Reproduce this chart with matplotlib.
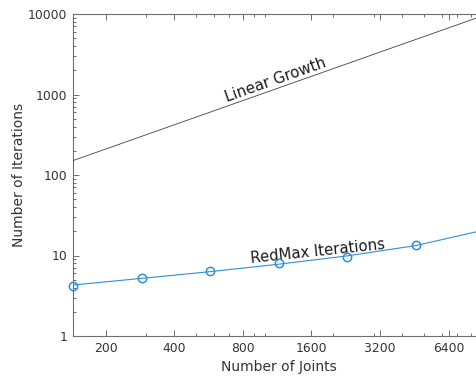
import matplotlib
matplotlib.use("Agg")
import matplotlib.pyplot as plt
from matplotlib.ticker import FixedLocator, LogLocator, NullFormatter, FixedFormatter

plt.rcParams['font.family'] = ['DejaVu Sans']

# Data
joints = [144, 288, 576, 1152, 2304, 4608]
iterations = [4.2, 5.2, 6.4, 8.0, 9.5, 13.5]
curve_x = [144, 288, 576, 1152, 2304, 4608, 9216]
curve_y = [4.3, 5.2, 6.3, 7.8, 9.9, 13.3, 20.8]
linear_x = [144, 9216]
linear_y = [151, 9680]
xtick_vals = [200, 400, 800, 1600, 3200, 6400]
xtick_labels = ["200", "400", "800", "1600", "3200", "6400"]
ytick_vals = [1, 10, 100, 1000, 10000]
ytick_labels = ["1", "10", "100", "1000", "10000"]

W, H = 477, 377
fig = plt.figure(figsize=(W / 100, H / 100), dpi=100)
left, right, top, bottom = 73, 484.6, 14, 336
ax = fig.add_axes([left / W, (H - bottom) / H, (right - left) / W, (bottom - top) / H])

blue = '#2f8fd6'
ax.plot(curve_x, curve_y, color=blue, lw=0.8, zorder=3)
ax.plot(joints, iterations, linestyle='none', marker='o', markersize=6,
        markerfacecolor='none', markeredgecolor=blue, markeredgewidth=1.1, zorder=4,
        clip_on=False)
ax.plot(linear_x, linear_y, color='#404040', lw=0.6, zorder=3)

ax.set_xscale('log')
ax.set_yscale('log')
ax.set_xlim(144, 9216)
ax.set_ylim(1, 10000)

ax.xaxis.set_major_locator(FixedLocator(xtick_vals))
ax.xaxis.set_major_formatter(FixedFormatter(xtick_labels))
ax.xaxis.set_minor_locator(LogLocator(base=10, subs=[1, 2, 3, 4, 5, 6, 7, 8, 9]))
ax.xaxis.set_minor_formatter(NullFormatter())
ax.yaxis.set_major_locator(FixedLocator(ytick_vals))
ax.yaxis.set_major_formatter(FixedFormatter(ytick_labels))
ax.yaxis.set_minor_locator(LogLocator(base=10, subs=[2, 3, 4, 5, 6, 7, 8, 9]))
ax.yaxis.set_minor_formatter(NullFormatter())

spine_c = '#6e6e6e'
for s in ax.spines.values():
    s.set_color(spine_c)
    s.set_linewidth(0.8)
ax.tick_params(which='both', direction='in', top=True, right=True, colors=spine_c,
               labelcolor='#333333', labelsize=8.9, width=0.7)
ax.tick_params(which='major', length=4, pad=4)
ax.tick_params(which='minor', length=2.2)

ax.set_xlabel('Number of Joints', fontsize=10, color='#333333', labelpad=4)
ax.set_ylabel('Number of Iterations', fontsize=10, color='#333333', labelpad=10)
ax.yaxis.set_label_coords(-(73 - 26) / (right - left), 0.5)

ax.text(1111, 1500, 'Linear Growth', rotation=19.5, fontsize=10.8, color='#1a1a1a',
        ha='center', va='center', rotation_mode='anchor')
ax.text(1700, 11.2, 'RedMax Iterations', rotation=6, fontsize=10.7, color='#1a1a1a',
        ha='center', va='center', rotation_mode='anchor')

fig.savefig('out.png', dpi=100)
